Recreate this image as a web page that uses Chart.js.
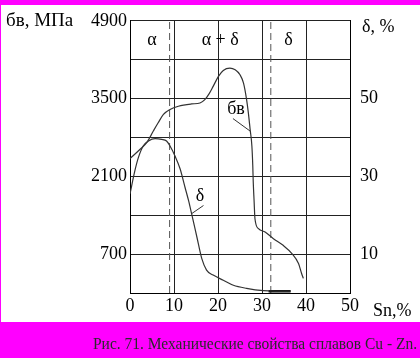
<!DOCTYPE html>
<html>
<head>
<meta charset="utf-8">
<script src="https://cdn.jsdelivr.net/npm/chart.js@4/dist/chart.umd.min.js"></script>
<style>
html,body{margin:0;padding:0;background:#ff00ff;}
#wrap{position:absolute;left:0;top:0;width:420px;height:358px;}
</style>
</head>
<body>
<div id="wrap"><canvas id="c" width="420" height="358"></canvas></div>
<script>
// ---- data ----
const snSigma = [0, 2.3, 3.8, 5.3, 6.4, 7.6, 9.1, 11, 14, 15.9, 17, 18, 18.9, 20.1, 21.2, 22.7, 23.9, 25, 25.8, 26.5, 26.9, 27.3, 27.7, 27.9, 28.0, 28.2, 28.4, 29.2, 30.7, 32.6, 34.8, 36.8, 38.3, 39, 39.4];
const sigmaMPa = [2420, 2588, 2706, 2915, 3064, 3214, 3303, 3362, 3403, 3421, 3480, 3590, 3720, 3899, 4006, 4048, 4018, 3929, 3779, 3482, 3243, 2946, 2647, 2300, 2021, 1663, 1336, 1157, 1097, 978, 858, 710, 531, 352, 263];
const snDelta = [0, 1.1, 1.9, 3, 4.2, 5.7, 7.2, 8.3, 9.1, 10.2, 11.4, 12.5, 13.3, 14, 15.2, 16.3, 17.4, 18.9, 21.2, 23.5, 26.5, 30.3, 33, 36.5];
const deltaPct = [25.5, 31.4, 34.8, 37.8, 39.1, 39.7, 39.5, 39.1, 37.8, 35.3, 31.9, 27.2, 23.8, 20.4, 14.4, 8.9, 5.9, 4.6, 3.3, 2.0, 1.2, 0.6, 0.5, 0.5];
const snThick = [31.5, 36.5];
const deltaThick = [0.45, 0.45];
const phaseBounds = [9, 32];            // dashed phase boundaries, % Sn
const phaseLabels = ['α', 'α + δ', 'δ'];
const phaseLabelSn = [5, 20.5, 36];
const sigmaTicks = [700, 2100, 3500, 4900];
const deltaTicks = [10, 30, 50];
const xTicks = [0, 10, 20, 30, 40, 50];
const yTitle = 'бв, МПа';
const y2Title = 'δ, %';
const xTitle = 'Sn,%';
const caption = 'Рис. 71. Механические свойства сплавов Cu - Zn.';
const sigmaNote = {text: 'бв', sn: 24.1, v: 3310, from: [23.4, 3140], to: [27.3, 2915]};
const deltaNote = {text: 'δ', sn: 15.9, v: 25.0, from: [16.7, 22.5], to: [14.0, 20.4]};

const FONT = 'Liberation Serif, Times New Roman, serif';
const toXY = (xs, ys) => xs.map((x, i) => ({x: x, y: ys[i]}));

const bgPlugin = {
  id: 'bg',
  beforeDraw(chart) {
    const ctx = chart.ctx;
    ctx.save();
    ctx.fillStyle = '#ff00ff';
    ctx.fillRect(0, 0, chart.width, chart.height);
    ctx.fillStyle = '#ffffff';
    ctx.fillRect(1, 5, chart.width - 1, 317);
    ctx.restore();
  },
  afterDraw(chart) {
    const ctx = chart.ctx;
    const xs = chart.scales.x, ys = chart.scales.y, y2 = chart.scales.y2;
    ctx.save();
    ctx.fillStyle = '#000';
    ctx.textBaseline = 'middle';
    // axis titles
    ctx.textAlign = 'left';
    ctx.font = '19px ' + FONT;
    ctx.fillText(yTitle, 6, 21, 71);
    ctx.font = '18px ' + FONT;
    ctx.fillText(y2Title, 362, 27);
    ctx.fillText(xTitle, 373, 311);
    // phase labels in top band
    ctx.textAlign = 'center';
    const bandY = ys.getPixelForValue(4550);
    phaseLabels.forEach((t, i) => ctx.fillText(t, xs.getPixelForValue(phaseLabelSn[i]), bandY));
    // curve notes
    ctx.fillText(sigmaNote.text, xs.getPixelForValue(sigmaNote.sn), ys.getPixelForValue(sigmaNote.v));
    ctx.fillText(deltaNote.text, xs.getPixelForValue(deltaNote.sn), y2.getPixelForValue(deltaNote.v));
    ctx.strokeStyle = '#333';
    ctx.lineWidth = 1;
    ctx.beginPath();
    ctx.moveTo(xs.getPixelForValue(sigmaNote.from[0]), ys.getPixelForValue(sigmaNote.from[1]));
    ctx.lineTo(xs.getPixelForValue(sigmaNote.to[0]), ys.getPixelForValue(sigmaNote.to[1]));
    ctx.moveTo(xs.getPixelForValue(deltaNote.from[0]), y2.getPixelForValue(deltaNote.from[1]));
    ctx.lineTo(xs.getPixelForValue(deltaNote.to[0]), y2.getPixelForValue(deltaNote.to[1]));
    ctx.stroke();
    // caption
    ctx.fillStyle = '#2a2a2a';
    ctx.font = '16px ' + FONT;
    ctx.textAlign = 'left';
    ctx.fillText(caption, 93, 345, 324);
    ctx.restore();
  }
};

const datasets = [
  {label: 'sigma', data: toXY(snSigma, sigmaMPa), yAxisID: 'y', borderColor: '#333', borderWidth: 1.2, pointRadius: 0, cubicInterpolationMode: 'monotone', fill: false},
  {label: 'delta', data: toXY(snDelta, deltaPct), yAxisID: 'y2', borderColor: '#333', borderWidth: 1.2, pointRadius: 0, cubicInterpolationMode: 'monotone', fill: false},
  {label: 'deltaThick', data: toXY(snThick, deltaThick), yAxisID: 'y2', borderColor: '#000', borderWidth: 2.5, pointRadius: 0, fill: false}
];
phaseBounds.forEach(b => datasets.push({
  label: 'bound', data: [{x: b, y: 0}, {x: b, y: 4900}], yAxisID: 'y',
  borderColor: '#555', borderWidth: 1, borderDash: [7, 4], pointRadius: 0, fill: false
}));

new Chart(document.getElementById('c'), {
  type: 'line',
  data: {datasets: datasets},
  options: {
    responsive: false,
    animation: false,
    devicePixelRatio: 1,
    layout: {padding: {top: 19, left: 0, right: 0, bottom: 0}},
    plugins: {legend: {display: false}, tooltip: {enabled: false}},
    scales: {
      x: {
        type: 'linear', min: 0, max: 50,
        afterBuildTicks: s => { s.ticks = xTicks.map(v => ({value: v})); },
        ticks: {color: '#000', font: {family: FONT, size: 18}, padding: 2, maxRotation: 0, autoSkip: false},
        grid: {color: '#222', lineWidth: 1, drawTicks: false},
        border: {color: '#000'},
        afterFit: s => { s.height = 65; }
      },
      y: {
        position: 'left', min: 0, max: 4900,
        ticks: {stepSize: 700, autoSkip: false, color: '#000', font: {family: FONT, size: 18}, padding: 3,
          callback: v => sigmaTicks.includes(v) ? String(v) : ''},
        grid: {color: '#222', lineWidth: 1, drawTicks: false},
        border: {color: '#000'},
        afterFit: s => { s.width = 130; }
      },
      y2: {
        position: 'right', min: 0, max: 70,
        ticks: {stepSize: 10, autoSkip: false, color: '#000', font: {family: FONT, size: 18}, padding: 10,
          callback: v => deltaTicks.includes(v) ? String(v) : ''},
        grid: {display: false, drawTicks: false},
        border: {color: '#000'},
        afterFit: s => { s.width = 70; }
      }
    }
  },
  plugins: [bgPlugin]
});
</script>
</body>
</html>
